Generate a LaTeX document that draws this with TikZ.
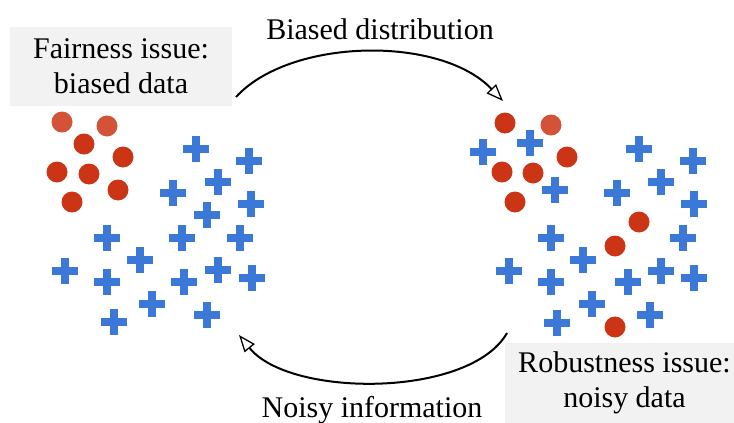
\documentclass[tikz,border=0pt]{standalone}
\usepackage{fontspec}
\setmainfont{Liberation Serif}
\usetikzlibrary{arrows.meta}
\definecolor{dotred}{RGB}{204,52,22}
\definecolor{dotpale}{RGB}{211,82,56}
\definecolor{plusblue}{RGB}{60,120,216}
\definecolor{boxgray}{RGB}{242,242,242}
\newcommand{\bigtext}{\fontsize{30}{35}\selectfont}
\tikzset{
  issuebox/.style={fill=boxgray, align=center, inner sep=0pt, font=\bigtext},
  arrowlabel/.style={anchor=base, inner sep=0pt, font=\bigtext},
  reddot/.style={fill=dotred},
  paledot/.style={fill=dotpale},
  plusmark/.style={draw=plusblue, line width=8pt},
  arrow/.style={-{Triangle[open, length=17pt, width=13pt, line width=1.3pt]}, line width=2pt}
}

\begin{document}
\begin{tikzpicture}[x=1pt, y=-1pt]
  \useasboundingbox (0,0) rectangle (734,423);

  \node[issuebox, minimum width=222pt, minimum height=79pt] (fair) at (121,66.5) {Fairness issue:\\biased data};
  \node[issuebox, minimum width=239pt, minimum height=80pt] (robust) at (624.5,383) {Robustness issue:\\noisy data};

  % clean data
  \foreach \x/\y in {196/149, 249/161, 218/182, 173/193, 251/204, 207/215, 107/238, 182/238, 240/238,
                     140/260, 65/271, 218/270, 252/278, 107/282, 184/282, 152/304, 207/315, 114/322}
    \draw[plusmark] (\x,\y) +(-13,0) -- +(13,0) +(0,-13) -- +(0,13);
  \foreach \x/\y in {84/144, 123/157, 57/172, 89/174, 118/190, 72/202}
    \fill[reddot] (\x,\y) circle[radius=10.5pt];
  \foreach \x/\y in {62/122, 107/126}
    \fill[paledot] (\x,\y) circle[radius=10.5pt];

  % noisy data
  \foreach \x/\y in {530/143, 483/152, 639/149, 693/161, 661/182, 555/190, 617/193, 694/204, 551/238, 683/238,
                     583/260, 509/271, 661/271, 694/278, 551/282, 628/282, 592/304, 650/315, 557/323}
    \draw[plusmark] (\x,\y) +(-13,0) -- +(13,0) +(0,-13) -- +(0,13);
  \foreach \x/\y in {505/123, 567/157, 502/172, 533/173, 515/202, 639/222, 615/246, 615/327}
    \fill[reddot] (\x,\y) circle[radius=10.5pt];
  \fill[paledot] (551,125) circle[radius=10.5pt];

  \coordinate (fairout) at (236,97);
  \coordinate (noisyin) at (503,101);
  \coordinate (robustout) at (507,333);
  \coordinate (cleanin) at (239,335);

  \draw[arrow] (fairout) .. controls (290,38) and (440,35) .. (noisyin);
  \draw[arrow] (robustout) .. controls (470,398) and (290,398) .. (cleanin);

  \node[arrowlabel] (biaslabel) at (380,39) {Biased distribution};
  \node[arrowlabel] (noiselabel) at (372,417) {Noisy information};
\end{tikzpicture}
\end{document}
